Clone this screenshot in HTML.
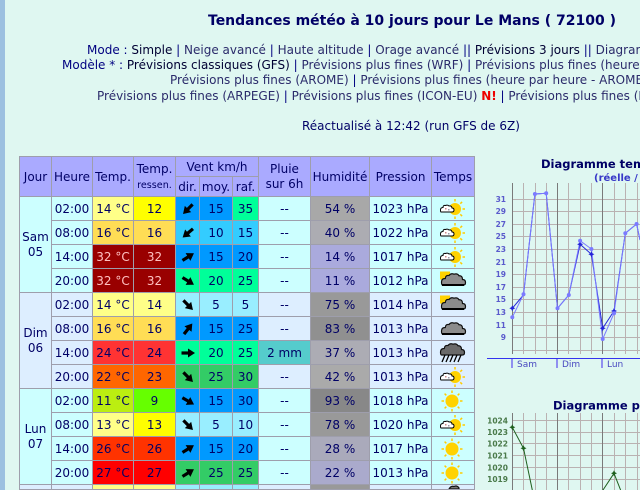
<!DOCTYPE html>
<html><head><meta charset="utf-8">
<style>
html,body{margin:0;padding:0;width:640px;height:490px;overflow:hidden;background:#dff7f1}
#wrap{position:relative;width:640px;height:490px;overflow:hidden;background:#dff7f1;font-family:"DejaVu Sans","Liberation Sans",sans-serif;color:#000066}
.strip{position:absolute;left:0;top:0;width:5px;height:490px;background:#9cc0e0}
.t{position:absolute;white-space:nowrap;font-size:12px;line-height:15px;color:#2b2b6b}
.k{color:#000033}
.s{color:#000080}
#g{position:absolute;left:19px;top:156px;height:334px;box-sizing:border-box;overflow:hidden;display:grid;grid-template-columns:31px 40px 40px 41px 23px 32px 25px 51px 58px 61px 42px;grid-template-rows:19px 19px repeat(12,23px) 4px;gap:1px;padding:1px;background:#9e9eac}
#g>div{display:flex;align-items:center;justify-content:center;text-align:center;font-size:12px;line-height:14px;overflow:hidden;color:#000066}
#g>div.h{background:#aaaaff}
#g>div.lr{align-items:flex-start}
.A{background:#ccffff}
.B{background:#ddeeff}
.r2{grid-row:span 2}
.r4{grid-row:span 4}
.c3{grid-column:span 3}
.dk{color:#ffc0c0 !important}
svg{display:block}
</style></head><body>
<div id="wrap">
<div class="strip"></div>

<div class="t" style="left:208px;top:12px;font-size:14px;line-height:18px;font-weight:bold;color:#000066">Tendances météo à 10 jours pour Le Mans ( 72100 )</div>
<div class="t" style="left:87px;top:43px"><span class="s">Mode : </span><span class="k">Simple</span><span class="s"> | </span>Neige avancé<span class="s"> | </span>Haute altitude<span class="s"> | </span>Orage avancé<span class="s"> || </span><span class="k">Prévisions 3 jours</span><span class="s"> || </span>Diagrammes</div>
<div class="t" style="left:62px;top:58px"><span class="s">Modèle * : </span><span class="k">Prévisions classiques (GFS)</span><span class="s"> | </span>Prévisions plus fines (WRF)<span class="s"> | </span>Prévisions plus fines (heure par heure - WRF)</div>
<div class="t" style="left:170px;top:73px">Prévisions plus fines (AROME)<span class="s"> | </span>Prévisions plus fines (heure par heure - AROME)</div>
<div class="t" style="left:97px;top:89px">Prévisions plus fines (ARPEGE)<span class="s"> | </span>Prévisions plus fines (ICON-EU) <b style="color:#ee0000">N!</b><span class="s"> | </span>Prévisions plus fines (ICON-D2)</div>
<div class="t" style="left:302px;top:119px;color:#000066">Réactualisé à 12:42 (run GFS de 6Z)</div>

<div id="g">
<div class="h r2">Jour</div>
<div class="h r2">Heure</div>
<div class="h r2">Temp.</div>
<div class="h r2"><div style="line-height:15px">Temp.<br><span style="font-size:9.6px;line-height:13px">ressen.</span></div></div>
<div class="h c3">Vent km/h</div>
<div class="h r2" style="line-height:15px">Pluie<br>sur 6h</div>
<div class="h r2">Humidité</div>
<div class="h r2">Pression</div>
<div class="h r2">Temps</div>
<div class="h">dir.</div>
<div class="h">moy.</div>
<div class="h">raf.</div>

<!-- Sam 02:00 -->
<div class="A r4" style="line-height:14.6px">Sam<br>05</div>
<div class="A">02:00</div>
<div style="background:#ffff88">14 °C</div>
<div style="background:#ffff00">12</div>
<div style="background:#0099ff"><svg width="16" height="16" viewBox="-8 -8 16 16"><g transform="rotate(135)"><path d="M-6.5,0H1" stroke="#000" stroke-width="3.2"/><path d="M0,-4.5L7,0L0,4.5Z"/></g></svg></div>
<div style="background:#0099ff">15</div>
<div style="background:#00ff99">35</div>
<div class="A">--</div>
<div style="background:#a8a8a8">54 %</div>
<div class="A">1023 hPa</div>
<div class="A"><svg width="40" height="22" viewBox="0 0 40 22"><g stroke="#ffcc00" stroke-width="1.5"><line x1="29.5" y1="11" x2="32" y2="11"/><line x1="27.3" y1="16.3" x2="29.1" y2="18.1"/><line x1="22" y1="18.5" x2="22" y2="21"/><line x1="27.3" y1="5.7" x2="29.1" y2="3.9"/><line x1="22" y1="3.5" x2="22" y2="1"/></g><circle cx="22" cy="11" r="6" fill="#ffd200"/><path d="M8,14L19,14Q21,14 21,12Q21,10 19,10Q18.5,7.5 16,8Q14.5,6.5 12.5,7.5Q10,7 10,9.5Q7.5,9.5 7.5,12Q7.5,14 8,14Z" fill="#fff" stroke="#000" stroke-width="1"/><rect x="12" y="10" width="1.5" height="1.5" fill="#c88"/><rect x="15" y="11" width="1.5" height="1.5" fill="#99a"/></svg></div>

<!-- Sam 08:00 -->
<div class="A">08:00</div>
<div style="background:#ffdd55">16 °C</div>
<div style="background:#ffdd55">16</div>
<div style="background:#33ccff"><svg width="16" height="16" viewBox="-8 -8 16 16"><g transform="rotate(140)"><path d="M-6.5,0H1" stroke="#000" stroke-width="3.2"/><path d="M0,-4.5L7,0L0,4.5Z"/></g></svg></div>
<div style="background:#33ccff">10</div>
<div style="background:#33ccff">15</div>
<div class="A">--</div>
<div style="background:#acacb2">40 %</div>
<div class="A">1022 hPa</div>
<div class="A"><svg width="40" height="22" viewBox="0 0 40 22"><g stroke="#ffcc00" stroke-width="1.5"><line x1="29.5" y1="11" x2="32" y2="11"/><line x1="27.3" y1="16.3" x2="29.1" y2="18.1"/><line x1="22" y1="18.5" x2="22" y2="21"/><line x1="27.3" y1="5.7" x2="29.1" y2="3.9"/><line x1="22" y1="3.5" x2="22" y2="1"/></g><circle cx="22" cy="11" r="6" fill="#ffd200"/><path d="M8,14L19,14Q21,14 21,12Q21,10 19,10Q18.5,7.5 16,8Q14.5,6.5 12.5,7.5Q10,7 10,9.5Q7.5,9.5 7.5,12Q7.5,14 8,14Z" fill="#fff" stroke="#000" stroke-width="1"/><rect x="12" y="10" width="1.5" height="1.5" fill="#c88"/><rect x="15" y="11" width="1.5" height="1.5" fill="#99a"/></svg></div>

<!-- Sam 14:00 -->
<div class="A">14:00</div>
<div class="dk" style="background:#990000">32 °C</div>
<div class="dk" style="background:#990000">32</div>
<div style="background:#0099ff"><svg width="16" height="16" viewBox="-8 -8 16 16"><g transform="rotate(-32)"><path d="M-6.5,0H1" stroke="#000" stroke-width="3.2"/><path d="M0,-4.5L7,0L0,4.5Z"/></g></svg></div>
<div style="background:#0099ff">15</div>
<div style="background:#0099ff">20</div>
<div class="A">--</div>
<div style="background:#aaaadd">14 %</div>
<div class="A">1017 hPa</div>
<div class="A"><svg width="40" height="22" viewBox="0 0 40 22"><g stroke="#ffcc00" stroke-width="1.5"><line x1="29.5" y1="11" x2="32" y2="11"/><line x1="27.3" y1="16.3" x2="29.1" y2="18.1"/><line x1="22" y1="18.5" x2="22" y2="21"/><line x1="27.3" y1="5.7" x2="29.1" y2="3.9"/><line x1="22" y1="3.5" x2="22" y2="1"/></g><circle cx="22" cy="11" r="6" fill="#ffd200"/><path d="M8,14L19,14Q21,14 21,12Q21,10 19,10Q18.5,7.5 16,8Q14.5,6.5 12.5,7.5Q10,7 10,9.5Q7.5,9.5 7.5,12Q7.5,14 8,14Z" fill="#fff" stroke="#000" stroke-width="1"/><rect x="12" y="10" width="1.5" height="1.5" fill="#c88"/><rect x="15" y="11" width="1.5" height="1.5" fill="#99a"/></svg></div>

<!-- Sam 20:00 -->
<div class="A">20:00</div>
<div class="dk" style="background:#990000">32 °C</div>
<div class="dk" style="background:#990000">32</div>
<div style="background:#00ff99"><svg width="16" height="16" viewBox="-8 -8 16 16"><g transform="rotate(32)"><path d="M-6.5,0H1" stroke="#000" stroke-width="3.2"/><path d="M0,-4.5L7,0L0,4.5Z"/></g></svg></div>
<div style="background:#00ff99">20</div>
<div style="background:#00ff99">25</div>
<div class="A">--</div>
<div style="background:#aaaadd">11 %</div>
<div class="A">1012 hPa</div>
<div class="A"><svg width="40" height="22" viewBox="0 0 40 22"><rect x="7" y="1.5" width="10" height="8" fill="#ffd200"/><path d="M9.5,15L30.5,15Q32.5,15 32.5,12.5Q32.5,9.5 29.5,9.5Q29.5,5.5 26,5.8Q24.5,3 21,4.2Q18,2.8 16,5.5Q12.5,5 12.3,8.5Q8.5,8.5 8.5,12Q8.5,15 9.5,15Z" fill="#8c8c8c" stroke="#111" stroke-width="1.2"/><line x1="9" y1="15" x2="31" y2="15" stroke="#000" stroke-width="2"/></svg></div>

<!-- Dim 02:00 -->
<div class="B r4" style="line-height:14.6px">Dim<br>06</div>
<div class="B">02:00</div>
<div style="background:#ffff88">14 °C</div>
<div style="background:#ffff88">14</div>
<div style="background:#99eeff"><svg width="16" height="16" viewBox="-8 -8 16 16"><g transform="rotate(45)"><path d="M-6.5,0H1" stroke="#000" stroke-width="3.2"/><path d="M0,-4.5L7,0L0,4.5Z"/></g></svg></div>
<div style="background:#99eeff">5</div>
<div style="background:#99eeff">5</div>
<div class="B">--</div>
<div style="background:#999999">75 %</div>
<div class="B">1014 hPa</div>
<div class="B"><svg width="40" height="22" viewBox="0 0 40 22"><rect x="7" y="1.5" width="10" height="8" fill="#ffd200"/><path d="M9.5,15L30.5,15Q32.5,15 32.5,12.5Q32.5,9.5 29.5,9.5Q29.5,5.5 26,5.8Q24.5,3 21,4.2Q18,2.8 16,5.5Q12.5,5 12.3,8.5Q8.5,8.5 8.5,12Q8.5,15 9.5,15Z" fill="#8c8c8c" stroke="#111" stroke-width="1.2"/><line x1="9" y1="15" x2="31" y2="15" stroke="#000" stroke-width="2"/></svg></div>

<!-- Dim 08:00 -->
<div class="B">08:00</div>
<div style="background:#ffdd55">16 °C</div>
<div style="background:#ffdd55">16</div>
<div style="background:#0099ff"><svg width="16" height="16" viewBox="-8 -8 16 16"><g transform="rotate(-52)"><path d="M-6.5,0H1" stroke="#000" stroke-width="3.2"/><path d="M0,-4.5L7,0L0,4.5Z"/></g></svg></div>
<div style="background:#0099ff">15</div>
<div style="background:#0099ff">25</div>
<div class="B">--</div>
<div style="background:#909090">83 %</div>
<div class="B">1013 hPa</div>
<div class="B"><svg width="40" height="22" viewBox="0 0 40 22"><g transform="translate(0,1)"><path d="M9.5,15L30.5,15Q32.5,15 32.5,12.5Q32.5,9.5 29.5,9.5Q29.5,5.5 26,5.8Q24.5,3 21,4.2Q18,2.8 16,5.5Q12.5,5 12.3,8.5Q8.5,8.5 8.5,12Q8.5,15 9.5,15Z" fill="#8c8c8c" stroke="#111" stroke-width="1.2"/><line x1="9" y1="15" x2="31" y2="15" stroke="#000" stroke-width="2"/></g></svg></div>

<!-- Dim 14:00 -->
<div class="B">14:00</div>
<div style="background:#ff3333">24 °C</div>
<div style="background:#ff3333">24</div>
<div style="background:#00ff99"><svg width="16" height="16" viewBox="-8 -8 16 16"><g transform="rotate(0)"><path d="M-6.5,0H1" stroke="#000" stroke-width="3.2"/><path d="M0,-4.5L7,0L0,4.5Z"/></g></svg></div>
<div style="background:#00ff99">20</div>
<div style="background:#00ff99">25</div>
<div style="background:#55cccc">2 mm</div>
<div style="background:#acacb4">37 %</div>
<div class="B">1013 hPa</div>
<div class="B"><svg width="40" height="22" viewBox="0 0 40 22"><g transform="translate(-1,-2)"><path d="M9.5,15L30.5,15Q32.5,15 32.5,12.5Q32.5,9.5 29.5,9.5Q29.5,5.5 26,5.8Q24.5,3 21,4.2Q18,2.8 16,5.5Q12.5,5 12.3,8.5Q8.5,8.5 8.5,12Q8.5,15 9.5,15Z" fill="#6a6a6a" stroke="#111" stroke-width="1.2"/></g><g stroke="#000" stroke-width="1.3"><line x1="12" y1="13" x2="9" y2="20"/><line x1="16" y1="13" x2="13" y2="20"/><line x1="20" y1="13" x2="17" y2="20"/><line x1="24" y1="13" x2="21" y2="20"/><line x1="28" y1="13" x2="25" y2="20"/></g></svg></div>

<!-- Dim 20:00 -->
<div class="B">20:00</div>
<div style="background:#ff6600">22 °C</div>
<div style="background:#ff6600">23</div>
<div style="background:#33cc66"><svg width="16" height="16" viewBox="-8 -8 16 16"><g transform="rotate(45)"><path d="M-6.5,0H1" stroke="#000" stroke-width="3.2"/><path d="M0,-4.5L7,0L0,4.5Z"/></g></svg></div>
<div style="background:#33cc66">25</div>
<div style="background:#33cc66">30</div>
<div class="B">--</div>
<div style="background:#aaaaaa">42 %</div>
<div class="B">1013 hPa</div>
<div class="B"><svg width="40" height="22" viewBox="0 0 40 22"><g stroke="#ffcc00" stroke-width="1.5"><line x1="29.5" y1="11" x2="32" y2="11"/><line x1="27.3" y1="16.3" x2="29.1" y2="18.1"/><line x1="22" y1="18.5" x2="22" y2="21"/><line x1="27.3" y1="5.7" x2="29.1" y2="3.9"/><line x1="22" y1="3.5" x2="22" y2="1"/></g><circle cx="22" cy="11" r="6" fill="#ffd200"/><path d="M8,14L19,14Q21,14 21,12Q21,10 19,10Q18.5,7.5 16,8Q14.5,6.5 12.5,7.5Q10,7 10,9.5Q7.5,9.5 7.5,12Q7.5,14 8,14Z" fill="#fff" stroke="#000" stroke-width="1"/><rect x="12" y="10" width="1.5" height="1.5" fill="#c88"/><rect x="15" y="11" width="1.5" height="1.5" fill="#99a"/></svg></div>

<!-- Lun 02:00 -->
<div class="A r4" style="line-height:14.6px">Lun<br>07</div>
<div class="A">02:00</div>
<div style="background:#bbee11">11 °C</div>
<div style="background:#66ff00">9</div>
<div style="background:#0099ff"><svg width="16" height="16" viewBox="-8 -8 16 16"><g transform="rotate(30)"><path d="M-6.5,0H1" stroke="#000" stroke-width="3.2"/><path d="M0,-4.5L7,0L0,4.5Z"/></g></svg></div>
<div style="background:#0099ff">15</div>
<div style="background:#0099ff">30</div>
<div class="A">--</div>
<div style="background:#888888">93 %</div>
<div class="A">1018 hPa</div>
<div class="A"><svg width="40" height="22" viewBox="0 0 40 22"><g stroke="#ffcc00" stroke-width="1.5"><line x1="27" y1="11" x2="29.5" y2="11"/><line x1="24.7" y1="16.7" x2="26.4" y2="18.4"/><line x1="19" y1="19" x2="19" y2="21.5"/><line x1="13.3" y1="16.7" x2="11.6" y2="18.4"/><line x1="11" y1="11" x2="8.5" y2="11"/><line x1="13.3" y1="5.3" x2="11.6" y2="3.6"/><line x1="19" y1="3" x2="19" y2="0.5"/><line x1="24.7" y1="5.3" x2="26.4" y2="3.6"/></g><circle cx="19" cy="11" r="6.5" fill="#ffd200"/></svg></div>

<!-- Lun 08:00 -->
<div class="A">08:00</div>
<div style="background:#ffff88">13 °C</div>
<div style="background:#ffff00">13</div>
<div style="background:#99eeff"><svg width="16" height="16" viewBox="-8 -8 16 16"><g transform="rotate(45)"><path d="M-6.5,0H1" stroke="#000" stroke-width="3.2"/><path d="M0,-4.5L7,0L0,4.5Z"/></g></svg></div>
<div style="background:#99eeff">5</div>
<div style="background:#99eeff">10</div>
<div class="A">--</div>
<div style="background:#999999">78 %</div>
<div class="A">1020 hPa</div>
<div class="A"><svg width="40" height="22" viewBox="0 0 40 22"><g stroke="#ffcc00" stroke-width="1.5"><line x1="29.5" y1="11" x2="32" y2="11"/><line x1="27.3" y1="16.3" x2="29.1" y2="18.1"/><line x1="22" y1="18.5" x2="22" y2="21"/><line x1="27.3" y1="5.7" x2="29.1" y2="3.9"/><line x1="22" y1="3.5" x2="22" y2="1"/></g><circle cx="22" cy="11" r="6" fill="#ffd200"/><path d="M8,14L19,14Q21,14 21,12Q21,10 19,10Q18.5,7.5 16,8Q14.5,6.5 12.5,7.5Q10,7 10,9.5Q7.5,9.5 7.5,12Q7.5,14 8,14Z" fill="#fff" stroke="#000" stroke-width="1"/><rect x="12" y="10" width="1.5" height="1.5" fill="#c88"/><rect x="15" y="11" width="1.5" height="1.5" fill="#99a"/></svg></div>

<!-- Lun 14:00 -->
<div class="A">14:00</div>
<div style="background:#ff3300">26 °C</div>
<div style="background:#ff3300">26</div>
<div style="background:#0099ff"><svg width="16" height="16" viewBox="-8 -8 16 16"><g transform="rotate(-32)"><path d="M-6.5,0H1" stroke="#000" stroke-width="3.2"/><path d="M0,-4.5L7,0L0,4.5Z"/></g></svg></div>
<div style="background:#0099ff">15</div>
<div style="background:#0099ff">20</div>
<div class="A">--</div>
<div style="background:#aaaabb">28 %</div>
<div class="A">1017 hPa</div>
<div class="A"><svg width="40" height="22" viewBox="0 0 40 22"><g stroke="#ffcc00" stroke-width="1.5"><line x1="27" y1="11" x2="29.5" y2="11"/><line x1="24.7" y1="16.7" x2="26.4" y2="18.4"/><line x1="19" y1="19" x2="19" y2="21.5"/><line x1="13.3" y1="16.7" x2="11.6" y2="18.4"/><line x1="11" y1="11" x2="8.5" y2="11"/><line x1="13.3" y1="5.3" x2="11.6" y2="3.6"/><line x1="19" y1="3" x2="19" y2="0.5"/><line x1="24.7" y1="5.3" x2="26.4" y2="3.6"/></g><circle cx="19" cy="11" r="6.5" fill="#ffd200"/></svg></div>

<!-- Lun 20:00 -->
<div class="A">20:00</div>
<div style="background:#ff0000">27 °C</div>
<div style="background:#ff0000">27</div>
<div style="background:#33cc66"><svg width="16" height="16" viewBox="-8 -8 16 16"><g transform="rotate(-32)"><path d="M-6.5,0H1" stroke="#000" stroke-width="3.2"/><path d="M0,-4.5L7,0L0,4.5Z"/></g></svg></div>
<div style="background:#33cc66">25</div>
<div style="background:#33cc66">25</div>
<div class="A">--</div>
<div style="background:#aaaacc">22 %</div>
<div class="A">1013 hPa</div>
<div class="A"><svg width="40" height="22" viewBox="0 0 40 22"><g stroke="#ffcc00" stroke-width="1.5"><line x1="27" y1="11" x2="29.5" y2="11"/><line x1="24.7" y1="16.7" x2="26.4" y2="18.4"/><line x1="19" y1="19" x2="19" y2="21.5"/><line x1="13.3" y1="16.7" x2="11.6" y2="18.4"/><line x1="11" y1="11" x2="8.5" y2="11"/><line x1="13.3" y1="5.3" x2="11.6" y2="3.6"/><line x1="19" y1="3" x2="19" y2="0.5"/><line x1="24.7" y1="5.3" x2="26.4" y2="3.6"/></g><circle cx="19" cy="11" r="6.5" fill="#ffd200"/></svg></div>

<!-- Mar (partially visible) -->
<div class="B lr"></div>
<div class="B lr"></div>
<div class="lr" style="background:#ffff88"></div>
<div class="lr" style="background:#ffff88"></div>
<div class="lr" style="background:#99eeff"></div>
<div class="lr" style="background:#99eeff"></div>
<div class="lr" style="background:#99eeff"></div>
<div class="B lr"></div>
<div class="lr" style="background:#999999"></div>
<div class="B lr"></div>
<div class="B lr"><svg width="40" height="4" viewBox="0 3 40 4"><path d="M16,7 Q18,3.5 21,4.5 Q24,3 26,6 L26,7 Z" fill="#7a7a7a" stroke="#111" stroke-width="1.2"/></svg></div>
</div>

<svg style="position:absolute;left:0;top:0" width="640" height="490" viewBox="0 0 640 490">
<!-- Chart 1 -->
<text x="541" y="168" font-family="DejaVu Sans, sans-serif" font-size="11.5" font-weight="bold" fill="#000066">Diagramme températures</text>
<text x="594" y="181" font-family="DejaVu Sans, sans-serif" font-size="10" font-weight="bold" fill="#3838c8">(réelle / ressentie)</text>
<g stroke="#bab2b2" stroke-width="1">
<line x1="512" y1="199.5" x2="640" y2="199.5"/><line x1="512" y1="211.5" x2="640" y2="211.5"/><line x1="512" y1="224.5" x2="640" y2="224.5"/><line x1="512" y1="236.5" x2="640" y2="236.5"/><line x1="512" y1="249.5" x2="640" y2="249.5"/><line x1="512" y1="262.5" x2="640" y2="262.5"/><line x1="512" y1="274.5" x2="640" y2="274.5"/><line x1="512" y1="287.5" x2="640" y2="287.5"/><line x1="512" y1="299.5" x2="640" y2="299.5"/><line x1="512" y1="312.5" x2="640" y2="312.5"/><line x1="512" y1="325.5" x2="640" y2="325.5"/><line x1="512" y1="337.5" x2="640" y2="337.5"/><line x1="512" y1="350.5" x2="640" y2="350.5"/>
<line x1="523.5" y1="183" x2="523.5" y2="354"/><line x1="535.5" y1="183" x2="535.5" y2="354"/><line x1="546.5" y1="183" x2="546.5" y2="354"/><line x1="568.5" y1="183" x2="568.5" y2="354"/><line x1="580.5" y1="183" x2="580.5" y2="354"/><line x1="591.5" y1="183" x2="591.5" y2="354"/><line x1="614.5" y1="183" x2="614.5" y2="354"/><line x1="625.5" y1="183" x2="625.5" y2="354"/><line x1="637.5" y1="183" x2="637.5" y2="354"/>
</g>
<g stroke="#7a7a7a" stroke-width="1">
<line x1="512.5" y1="183" x2="512.5" y2="354"/><line x1="557.5" y1="183" x2="557.5" y2="354"/><line x1="602.5" y1="183" x2="602.5" y2="354"/>
</g>
<g font-family="DejaVu Sans, sans-serif" font-size="7.5" font-weight="bold" fill="#5a5acc" text-anchor="end">
<text x="506" y="202">31</text><text x="506" y="214">29</text><text x="506" y="227">27</text><text x="506" y="239">25</text><text x="506" y="252">23</text><text x="506" y="265">21</text><text x="506" y="277">19</text><text x="506" y="290">17</text><text x="506" y="302">15</text><text x="506" y="315">13</text><text x="506" y="328">11</text><text x="506" y="340">9</text>
</g>
<line x1="487" y1="358.5" x2="640" y2="358.5" stroke="#3333ee" stroke-width="1"/>
<g stroke="#9090f0" stroke-width="2"><line x1="512" y1="359" x2="512" y2="368"/><line x1="557" y1="359" x2="557" y2="368"/><line x1="602" y1="359" x2="602" y2="368"/></g>
<g font-family="DejaVu Sans, sans-serif" font-size="9" fill="#4848c0"><text x="517" y="367">Sam</text><text x="562" y="367">Dim</text><text x="607" y="367">Lun</text></g>
<polyline fill="none" stroke="#2424d8" stroke-width="1" points="512.3,308.3 523.5,295 534.9,194 546.2,193.3 557.5,308.3 568.8,295 580.1,244.3 591.4,254.3 602.7,328.3 614,311 625.3,233.3 636.6,224 640,240"/>
<polyline fill="none" stroke="#7a7aff" stroke-width="1" points="512.3,317.3 523.5,294.3 534.9,194 546.2,193.3 557.5,308.3 568.8,295 580.1,240.7 591.4,249 602.7,339 614,313.3 625.3,233.3 636.6,224 640,240"/>
<g fill="#2424d8">
<path d="M512.3,305.3l1,2l2,1l-2,1l-1,2l-1,-2l-2,-1l2,-1z"/><path d="M580.1,241.3l1,2l2,1l-2,1l-1,2l-1,-2l-2,-1l2,-1z"/><path d="M591.4,251.3l1,2l2,1l-2,1l-1,2l-1,-2l-2,-1l2,-1z"/><path d="M602.7,325.3l1,2l2,1l-2,1l-1,2l-1,-2l-2,-1l2,-1z"/><path d="M614,308l1,2l2,1l-2,1l-1,2l-1,-2l-2,-1l2,-1z"/>
</g>
<g fill="#7a7aff">
<circle cx="512.3" cy="317.3" r="2"/><circle cx="523.5" cy="294.3" r="2"/><circle cx="534.9" cy="194" r="2"/><circle cx="546.2" cy="193.3" r="2"/><circle cx="557.5" cy="308.3" r="2"/><circle cx="568.8" cy="295" r="2"/><circle cx="580.1" cy="240.7" r="2"/><circle cx="591.4" cy="249" r="2"/><circle cx="602.7" cy="339" r="2"/><circle cx="614" cy="313.3" r="2"/><circle cx="625.3" cy="233.3" r="2"/><circle cx="636.6" cy="224" r="2"/>
</g>

<!-- Chart 2 -->
<text x="553" y="409.5" font-family="DejaVu Sans, sans-serif" font-size="11.5" font-weight="bold" fill="#000066">Diagramme pression</text>
<g stroke="#bab2b2" stroke-width="1">
<line x1="512" y1="420.5" x2="640" y2="420.5"/><line x1="512" y1="432.5" x2="640" y2="432.5"/><line x1="512" y1="443.5" x2="640" y2="443.5"/><line x1="512" y1="455.5" x2="640" y2="455.5"/><line x1="512" y1="467.5" x2="640" y2="467.5"/><line x1="512" y1="479.5" x2="640" y2="479.5"/>
<line x1="523.5" y1="413" x2="523.5" y2="490"/><line x1="535.5" y1="413" x2="535.5" y2="490"/><line x1="546.5" y1="413" x2="546.5" y2="490"/><line x1="568.5" y1="413" x2="568.5" y2="490"/><line x1="580.5" y1="413" x2="580.5" y2="490"/><line x1="591.5" y1="413" x2="591.5" y2="490"/><line x1="614.5" y1="413" x2="614.5" y2="490"/><line x1="625.5" y1="413" x2="625.5" y2="490"/><line x1="637.5" y1="413" x2="637.5" y2="490"/>
</g>
<g stroke="#7a7a7a" stroke-width="1">
<line x1="512.5" y1="413" x2="512.5" y2="490"/><line x1="557.5" y1="413" x2="557.5" y2="490"/><line x1="602.5" y1="413" x2="602.5" y2="490"/>
</g>
<g font-family="DejaVu Sans, sans-serif" font-size="7.5" font-weight="bold" fill="#4a7a4a" text-anchor="end">
<text x="508" y="423.5">1024</text><text x="508" y="435">1023</text><text x="508" y="446.5">1022</text><text x="508" y="458.5">1021</text><text x="508" y="470.5">1020</text><text x="508" y="482">1019</text>
</g>
<polyline fill="none" stroke="#1d5f1d" stroke-width="1" points="512.3,427.3 523.5,448.3 532.3,490"/>
<polyline fill="none" stroke="#1d5f1d" stroke-width="1" points="603,490 614,473.3 620.6,490"/>
<g fill="#1d5f1d">
<path d="M512.3,424.3l1,2l2,1l-2,1l-1,2l-1,-2l-2,-1l2,-1z"/><path d="M523.5,445.3l1,2l2,1l-2,1l-1,2l-1,-2l-2,-1l2,-1z"/><path d="M614,470.3l1,2l2,1l-2,1l-1,2l-1,-2l-2,-1l2,-1z"/>
</g>
</svg>
</div>
</body></html>
